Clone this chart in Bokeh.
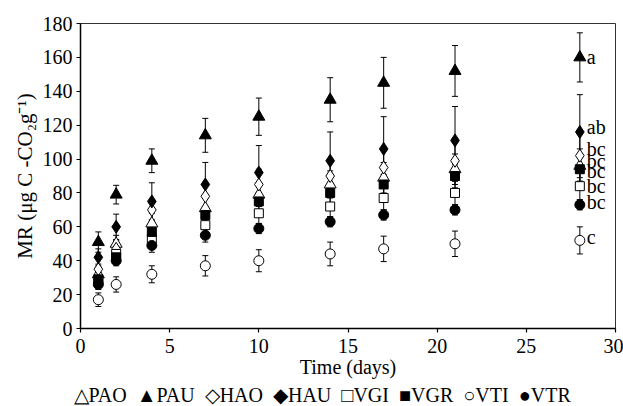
from bokeh.plotting import figure
from bokeh.models import (Range1d, FixedTicker, ColumnDataSource, Whisker, TeeHead, Title)
from bokeh.core.properties import value
from bokeh.embed import file_html
from bokeh.resources import INLINE

days = [1, 2, 4, 7, 10, 14, 17, 21, 28]

PAO = [32, 50, 62, 71, 79, 85, 89, 94, 96]
PAU = [51, 79, 99, 114, 125, 135, 145, 152, 160]
HAO = [35, 47, 70, 78, 85, 90, 95, 99, 102]
HAU = [42, 60, 75, 85, 92, 99, 106, 111, 116]
VGI = [28, 44, 53, 61, 68, 72, 77, 80, 84]
VGR = [29, 42, 57, 67, 75, 80, 85, 90, 94]
VTI = [17, 26, 32, 37, 40, 44, 47, 50, 52]
VTR = [26, 40, 49, 55, 59, 63, 67, 70, 73]

PAO_err = [4, 5, 6, 6, 7, 8, 9, 9, 10]
PAU_err = [6, 5.5, 7, 10, 11, 13, 15, 15, 14.5]
HAO_err = [3, 5, 6, 8, 9, 10, 11, 12, 13]
HAU_err = [5, 7.5, 11, 13, 16, 17, 19, 20, 22]
VGI_err = [3, 4, 5, 5, 6, 6, 7, 7, 8]
VGR_err = [3, 4, 5, 5, 5, 6, 6, 7, 7]
VTI_err = [4, 4.5, 5, 6, 6.5, 7, 7.5, 7.5, 8]
VTR_err = [3, 3, 4, 4, 3, 3, 3, 3, 3]

series_names = ["PAO", "PAU", "HAO", "HAU", "VGI", "VGR", "VTI", "VTR"]
legend_symbols = ["\u25b3", "\u25b2", "\u25c7", "\u25c6", "\u25a1", "\u25a0", "\u25cb", "\u25cf"]
series_vals = [PAO, PAU, HAO, HAU, VGI, VGR, VTI, VTR]
series_errs = [PAO_err, PAU_err, HAO_err, HAU_err, VGI_err, VGR_err, VTI_err, VTR_err]
letters = ["bc", "a", "bc", "ab", "bc", "bc", "c", "bc"]

x_ticks = [0, 5, 10, 15, 20, 25, 30]
y_ticks = [0, 20, 40, 60, 80, 100, 120, 140, 160, 180]

FONT = "Liberation Serif"

p = figure(width=623, height=406, output_backend="svg", toolbar_location=None,
           x_range=Range1d(0, 30), y_range=Range1d(0, 180),
           min_border_left=80, min_border_right=8, min_border_top=23,
           min_border_bottom=10)
p.grid.visible = False
p.outline_line_color = "#333333"
p.outline_line_width = 1
p.background_fill_color = "white"
p.border_fill_color = "white"

for ax in (p.xaxis[0], p.yaxis[0]):
    ax.axis_line_color = "black"
    ax.axis_line_width = 1.5
    ax.major_tick_line_color = "black"
    ax.major_tick_line_width = 1.2
    ax.major_tick_in = 0
    ax.major_tick_out = 4
    ax.minor_tick_line_color = None
    ax.major_label_text_font = FONT
    ax.major_label_text_font_size = "20px"
    ax.major_label_text_color = "black"
    ax.axis_label_text_font = FONT
    ax.axis_label_text_font_size = "20px"
    ax.axis_label_text_font_style = "normal"
    ax.axis_label_text_color = "black"

p.yaxis.axis_label_text_font_size = "21px"
p.xaxis.ticker = FixedTicker(ticks=x_ticks)
p.yaxis.ticker = FixedTicker(ticks=y_ticks)
p.xaxis.axis_label = "Time (days)"
p.yaxis.axis_label = "MR (\u03bcg C -CO\u2082g\u207b\u00b9)"
p.xaxis.major_label_standoff = 6
p.yaxis.major_label_standoff = 4
p.xaxis.axis_label_standoff = 0
p.yaxis.axis_label_standoff = 3

styles = {
    "PAO": ("triangle", "white", 12),
    "PAU": ("triangle", "black", 12),
    "HAO": ("diamond", "white", 13),
    "HAU": ("diamond", "black", 13),
    "VGI": ("square", "white", 9),
    "VGR": ("square", "black", 9),
    "VTI": ("circle", "white", 10),
    "VTR": ("circle", "black", 10),
}

sources = []
for name, vals, errs in zip(series_names, series_vals, series_errs):
    src = ColumnDataSource(dict(
        x=days, y=vals,
        upper=[v + e for v, e in zip(vals, errs)],
        lower=[v - e for v, e in zip(vals, errs)],
    ))
    sources.append(src)
    w = Whisker(source=src, base="x", upper="upper", lower="lower",
                line_color="black", line_width=1,
                upper_head=TeeHead(size=6, line_width=1, line_color="black"),
                lower_head=TeeHead(size=6, line_width=1, line_color="black"))
    p.add_layout(w)

for name, src in zip(series_names, sources):
    marker, fill, size = styles[name]
    p.scatter(x="x", y="y", source=src, marker=marker, size=size,
              fill_color=fill, line_color="black", line_width=1)

# significance letters at the last day
label_dy = {"PAU": 0, "HAU": -5, "HAO": -7, "PAO": -5, "VGR": 2, "VGI": 0, "VTR": -3, "VTI": -3}
lab_src = ColumnDataSource(dict(
    x=[days[-1]] * len(series_names),
    y=[vals[-1] for vals in series_vals],
    t=letters,
    dy=[label_dy[n] for n in series_names],
))
p.text(x="x", y="y", text="t", source=lab_src, x_offset=7, y_offset="dy",
       text_font=value(FONT), text_font_size="20px", text_color="black",
       text_align="left", text_baseline="middle")

# legend line below the axis (symbol + series name)
legend_text = "\u2002".join(s + n for s, n in zip(legend_symbols, series_names))
p.add_layout(Title(text=legend_text, align="left", offset=-7, standoff=2,
                   text_font=FONT, text_font_size="20px",
                   text_font_style="normal", text_color="black"), "below")

open("out.html", "w").write(file_html(p, INLINE))
